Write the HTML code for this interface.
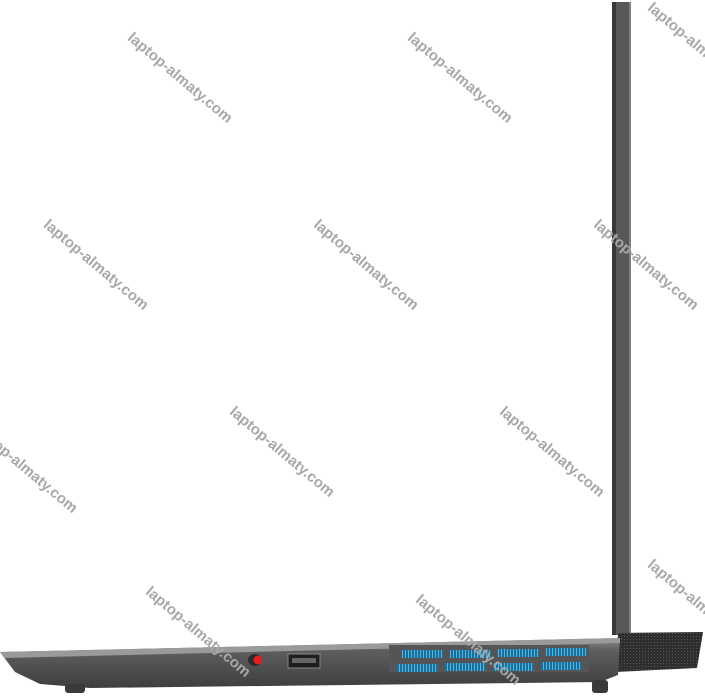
<!DOCTYPE html>
<html><head><style>
body{margin:0;width:705px;height:699px;background:#fff;position:relative;overflow:hidden;font-family:"Liberation Sans",sans-serif}
.w{position:absolute;color:#a8a8a8;font-size:15px;font-weight:bold;transform:translate(-50%,-50%) rotate(40deg);white-space:nowrap;z-index:5}
</style></head><body>
<svg width="705" height="699" style="position:absolute;left:0;top:0">
<defs>
<linearGradient id="b" x1="0" y1="0" x2="0" y2="1"><stop offset="0" stop-color="#8a8a8c"/><stop offset=".25" stop-color="#5e5e60"/><stop offset="1" stop-color="#3e3e40"/></linearGradient>
<pattern id="m" width="3" height="3" patternUnits="userSpaceOnUse"><rect width="3" height="3" fill="#2e2e30"/><rect width="1" height="1" fill="#555"/></pattern>
<pattern id="v" width="3" height="10" patternUnits="userSpaceOnUse"><rect width="3" height="10" fill="#1d6f98"/><rect width="1" height="10" fill="#4fb4e6"/></pattern>
</defs>
<rect x="612" y="2" width="19" height="633" fill="#58585a"/>
<rect x="612" y="2" width="4" height="633" fill="#38383a"/>
<rect x="629" y="2" width="2" height="633" fill="#808080"/>
<polygon points="618,633 703,632 697,668 615,672" fill="url(#m)"/>
<polygon points="0,652 620,638 618,675 600,682 90,688 40,684 15,672" fill="url(#b)"/>
<polygon points="0,652 620,638 620,643 5,658" fill="#9a9a9c"/>
<rect x="65" y="684" width="20" height="9" fill="#3a3a3c" rx="3"/>
<rect x="592" y="680" width="16" height="13" fill="#3a3a3c" rx="3"/>
<rect x="389" y="645" width="200" height="27" fill="#555557"/>
<rect x="402" y="650" width="41" height="8" fill="url(#v)"/>
<rect x="450" y="650" width="41" height="8" fill="url(#v)"/>
<rect x="498" y="649" width="41" height="8" fill="url(#v)"/>
<rect x="546" y="648" width="41" height="8" fill="url(#v)"/>
<rect x="397" y="664" width="41" height="8" fill="url(#v)"/>
<rect x="445" y="663" width="41" height="8" fill="url(#v)"/>
<rect x="493" y="663" width="41" height="8" fill="url(#v)"/>
<rect x="541" y="662" width="41" height="8" fill="url(#v)"/>
<rect x="288" y="654" width="32" height="14" fill="#1e1e20" stroke="#888" stroke-width="1"/>
<rect x="292" y="658" width="24" height="5" fill="#666"/>
<ellipse cx="255" cy="660" rx="7" ry="6" fill="#2a2a2a"/>
<circle cx="258" cy="660" r="4.5" fill="#d22"/>
</svg>
<div class="w" style="left:180px;top:78px">laptop-almaty.com</div>
<div class="w" style="left:460px;top:78px">laptop-almaty.com</div>
<div class="w" style="left:700px;top:48px">laptop-almaty.com</div>
<div class="w" style="left:96px;top:265px">laptop-almaty.com</div>
<div class="w" style="left:366px;top:265px">laptop-almaty.com</div>
<div class="w" style="left:646px;top:265px">laptop-almaty.com</div>
<div class="w" style="left:25px;top:468px">laptop-almaty.com</div>
<div class="w" style="left:282px;top:452px">laptop-almaty.com</div>
<div class="w" style="left:552px;top:452px">laptop-almaty.com</div>
<div class="w" style="left:198px;top:632px">laptop-almaty.com</div>
<div class="w" style="left:468px;top:640px">laptop-almaty.com</div>
<div class="w" style="left:700px;top:605px">laptop-almaty.com</div>
</body></html>
